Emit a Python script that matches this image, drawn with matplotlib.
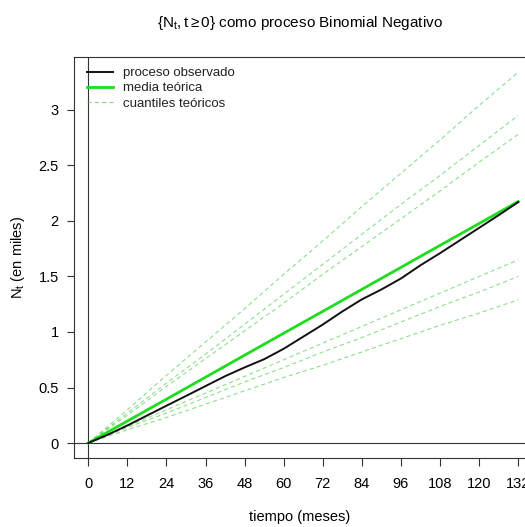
import matplotlib
matplotlib.use("Agg")
import matplotlib.pyplot as plt

plt.rcParams['font.family'] = ['Liberation Sans', 'DejaVu Sans']
plt.rcParams['mathtext.fontset'] = 'custom'
plt.rcParams['mathtext.rm'] = 'Liberation Sans'
plt.rcParams['mathtext.it'] = 'Liberation Sans'
plt.rcParams['mathtext.bf'] = 'Liberation Sans:bold'

# ---- data (months, thousands) ----
t_obs = [0, 6, 12, 18, 24, 30, 36, 42, 48, 54, 60, 66, 72, 78, 84, 90, 96,
         102, 108, 114, 120, 126, 132]
observed = [0, 0.075, 0.158, 0.247, 0.336, 0.424, 0.513, 0.602, 0.681, 0.755,
            0.849, 0.958, 1.067, 1.185, 1.294, 1.383, 1.482, 1.601, 1.710,
            1.824, 1.938, 2.052, 2.170]

t_grid = [0, 12, 24, 36, 48, 60, 72, 84, 96, 108, 120, 132]
mean_teo = [0, 0.198, 0.395, 0.593, 0.791, 0.989, 1.186, 1.384, 1.582, 1.780, 1.977, 2.175]
q_upper1 = [0, 0.30, 0.61, 0.91, 1.21, 1.52, 1.82, 2.13, 2.43, 2.73, 3.04, 3.34]
q_upper2 = [0, 0.27, 0.54, 0.80, 1.07, 1.34, 1.61, 1.88, 2.15, 2.41, 2.68, 2.95]
q_upper3 = [0, 0.25, 0.51, 0.76, 1.01, 1.26, 1.52, 1.77, 2.02, 2.27, 2.53, 2.78]
q_lower1 = [0, 0.15, 0.30, 0.45, 0.60, 0.75, 0.90, 1.05, 1.20, 1.35, 1.50, 1.65]
q_lower2 = [0, 0.14, 0.27, 0.41, 0.55, 0.68, 0.82, 0.95, 1.09, 1.23, 1.36, 1.50]
q_lower3 = [0, 0.12, 0.23, 0.35, 0.47, 0.59, 0.70, 0.82, 0.94, 1.06, 1.17, 1.29]
quantiles = [q_upper1, q_upper2, q_upper3, q_lower1, q_lower2, q_lower3]

x_ticks = [0, 12, 24, 36, 48, 60, 72, 84, 96, 108, 120, 132]
y_ticks = [0, 0.5, 1, 1.5, 2, 2.5, 3]
y_ticklabels = ["0", "0.5", "1", "1.5", "2", "2.5", "3"]

W, H = 525, 527
fig = plt.figure(figsize=(W / 100, H / 100), dpi=100)
left_px, right_px, top_px, bottom_px = 74, 526, 57, 458
ax = fig.add_axes([left_px / W, 1 - bottom_px / H,
                   (right_px - left_px) / W, (bottom_px - top_px) / H])

frame_col = '#333333'
ax.axvline(0, color=frame_col, lw=0.8, zorder=1)
ax.axhline(0, color=frame_col, lw=0.8, zorder=1)

qcol = '#44cc44'
for i, q in enumerate(quantiles):
    ax.plot(t_grid, q, color=qcol, lw=0.75, ls=(0, (4, 3)), alpha=0.65,
            label='cuantiles teóricos' if i == 0 else None, zorder=2)
ax.plot(t_grid, mean_teo, color='#1edc1e', lw=2.0, label='media teórica', zorder=3)
ax.plot(t_obs, observed, color='#111111', lw=1.4, label='proceso observado', zorder=4)

ax.set_xlim(-4.4, 134.4)
ax.set_ylim(-0.135, 3.477)

ax.set_xticks(x_ticks)
ax.set_xticklabels([str(v) for v in x_ticks])
ax.set_yticks(y_ticks)
ax.set_yticklabels(y_ticklabels)
ax.tick_params(axis='x', length=6, width=0.8, color=frame_col, pad=8, labelsize=10.5)
ax.tick_params(axis='y', length=5, width=0.8, color=frame_col, pad=6, labelsize=10.5)
for s in ax.spines.values():
    s.set_color(frame_col)
    s.set_linewidth(0.8)

ax.set_xlabel('tiempo (meses)', fontsize=10.5, labelpad=13)
ax.set_ylabel('$N_t$ (en miles)', fontsize=10.5, labelpad=8)
fig.text(300 / W, 1 - 23 / H, r'$\{N_t,t \geq 0\}$ como proceso Binomial Negativo',
         ha='center', va='center', fontsize=11)

handles, labels = ax.get_legend_handles_labels()
order = [2, 1, 0]
leg = ax.legend([handles[i] for i in order], [labels[i] for i in order],
                loc='upper left', bbox_to_anchor=((87 - left_px) / (right_px - left_px),
                                                  (bottom_px - 67) / (bottom_px - top_px)),
                frameon=False, fontsize=9.5, borderpad=0, borderaxespad=0,
                handlelength=2.0, handletextpad=0.7, labelspacing=0.22)
for txt in leg.get_texts():
    txt.set_color('#222222')

fig.savefig('out.png', dpi=100)
